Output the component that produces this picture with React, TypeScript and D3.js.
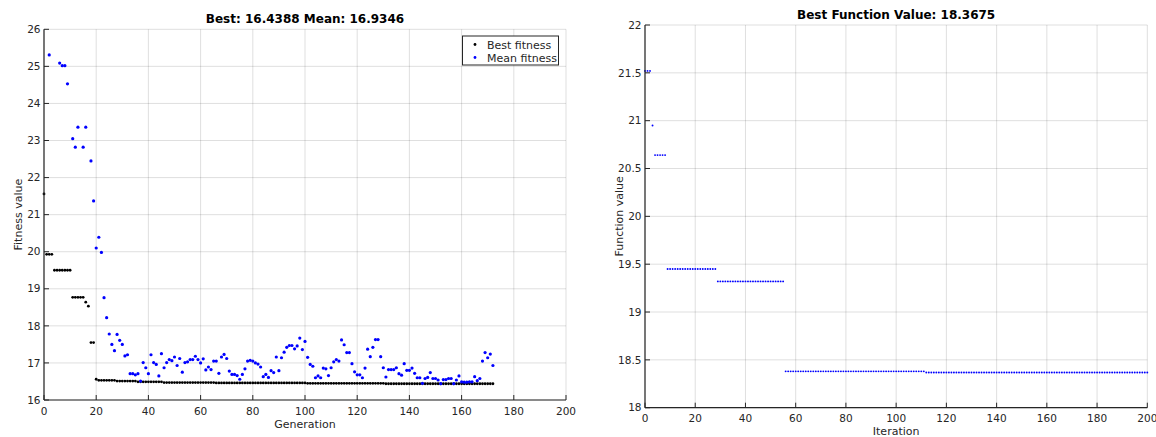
import React from 'react';
import * as d3 from 'd3';

// Left panel: GA fitness per generation (gens 0..172)
// best fitness is stored as [value, count] runs
const bestRuns: [number, number][] = [
  [21.56, 1], [19.93, 3], [19.5, 7], [18.77, 5], [18.64, 1], [18.53, 1],
  [17.55, 2], [16.56, 1], [16.53, 7], [16.51, 8], [16.49, 10], [16.47, 20],
  [16.46, 35], [16.45, 30], [16.4388, 42],
];

// mean fitness; null = above the visible range
const meanFitness: (number | null)[] = [
  null, null, 25.31, null, null, null, 25.09, 25.02, 25.02, 24.53,
  null, 23.05, 22.82, 23.36, null, 22.82, 23.36, null, 22.45, 21.37,
  20.10, 20.39, 19.98, 18.76, 18.22, 17.78, 17.50, 17.33, 17.77, 17.61,
  17.50, 17.19, 17.22, 16.71, 16.71, 16.68, 16.71, 16.51, 17.01, 16.87,
  16.71, 17.22, 17.01, 16.96, 16.65, 17.25, 16.87, 17.01, 17.09, 17.06,
  17.16, 16.93, 17.12, 16.75, 17.01, 17.03, 17.09, 17.09, 17.18, 17.09,
  17.00, 17.11, 16.81, 16.89, 16.82, 17.05, 17.05, 16.72, 17.16, 17.23,
  17.12, 16.78, 16.69, 16.69, 16.66, 16.56, 16.69, 16.84, 17.05, 17.07,
  17.05, 17.00, 16.97, 16.89, 16.63, 16.69, 16.61, 16.79, 16.74, 17.16,
  16.79, 17.14, 17.29, 17.42, 17.47, 17.47, 17.38, 17.46, 17.67, 17.36,
  17.58, 17.15, 16.96, 16.91, 16.60, 16.65, 16.60, 16.86, 16.84, 16.66,
  16.87, 17.03, 17.09, 17.05, 17.62, 17.49, 17.28, 17.28, 16.98, 16.76,
  16.68, 16.68, 16.60, 16.86, 17.37, 17.17, 17.42, 17.63, 17.63, 17.17,
  16.87, 16.62, 16.82, 16.82, 16.82, 16.87, 16.71, 16.67, 16.98, 16.80,
  16.80, 16.86, 16.72, 16.60, 16.60, 16.45, 16.58, 16.61, 16.74, 16.58,
  16.58, 16.54, 16.44, 16.55, 16.55, 16.58, 16.58, 16.44, 16.54, 16.65,
  16.49, 16.48, 16.48, 16.49, 16.49, 16.63, 16.52, 16.58, 17.05, 17.28,
  17.14, 17.24, 16.93,
];

// Right panel: best function value per iteration (0..200), as runs
const bestFvalRuns: [number, number][] = [
  [21.52, 3], [20.95, 1], [20.64, 5], [19.45, 20], [19.32, 27], [18.38, 56], [18.3675, 89],
];

const leftYTicks = [16, 17, 18, 19, 20, 21, 22, 23, 24, 25, 26];
const rightYTicks = [18, 18.5, 19, 19.5, 20, 20.5, 21, 21.5, 22];
const xTicks = [0, 20, 40, 60, 80, 100, 120, 140, 160, 180, 200];
const legendItems = [
  { label: 'Best fitness', color: '#000000' },
  { label: 'Mean fitness', color: '#0000ff' },
];

const expand = (runs: [number, number][]) =>
  runs.flatMap(([v, n]) => Array.from({ length: n }, () => v));

const bestFitness = expand(bestRuns);
const bestFval = expand(bestFvalRuns);

const TXT = '#262626';
const FONT = 'DejaVu Sans, sans-serif';

interface PanelProps {
  x0: number; x1: number; y0: number; y1: number;
  yDomain: [number, number];
  yTicks: number[];
  title: string;
  xLabel: string;
  yLabel: string;
  xLabelOffset?: number;
  children: (x: d3.ScaleLinear<number, number>, y: d3.ScaleLinear<number, number>) => React.ReactNode;
}

const Panel: React.FC<PanelProps> = ({ x0, x1, y0, y1, yDomain, yTicks, title, xLabel, yLabel, xLabelOffset = 28, children }) => {
  const x = d3.scaleLinear().domain([0, 200]).range([x0, x1]);
  const y = d3.scaleLinear().domain(yDomain).range([y1, y0]);
  const cx = (x0 + x1) / 2;
  const cy = (y0 + y1) / 2;
  return (
    <g fontFamily={FONT}>
      {/* grid */}
      {xTicks.map(t => (
        <line key={'gx' + t} x1={x(t)} x2={x(t)} y1={y0} y2={y1} stroke={TXT} strokeOpacity={0.15} />
      ))}
      {yTicks.map(t => (
        <line key={'gy' + t} x1={x0} x2={x1} y1={y(t)} y2={y(t)} stroke={TXT} strokeOpacity={0.15} />
      ))}
      {children(x, y)}
      {/* axes */}
      <line x1={x0} x2={x0} y1={y0} y2={y1} stroke={TXT} strokeWidth={1.2} />
      <line x1={x0} x2={x1} y1={y1} y2={y1} stroke={TXT} strokeWidth={1.2} />
      {xTicks.map(t => (
        <g key={'tx' + t}>
          <line x1={x(t)} x2={x(t)} y1={y1} y2={y1 - 5} stroke={TXT} />
          <text x={x(t)} y={y1 + 14.5} textAnchor="middle" fontSize={10.5} fill={TXT}>{t}</text>
        </g>
      ))}
      {yTicks.map(t => (
        <g key={'ty' + t}>
          <line x1={x0} x2={x0 + 5} y1={y(t)} y2={y(t)} stroke={TXT} />
          <text x={x0 - 3.5} y={y(t)} dy="0.35em" textAnchor="end" fontSize={10.5} fill={TXT}>{t}</text>
        </g>
      ))}
      <text x={cx} y={y0 - 6} textAnchor="middle" fontSize={12} fontWeight="bold" fill="#000">{title}</text>
      <text x={cx} y={y1 + xLabelOffset} textAnchor="middle" fontSize={11} fill={TXT}>{xLabel}</text>
      <text transform={`translate(${x0 - 22},${cy}) rotate(-90)`} textAnchor="middle" fontSize={11} fill={TXT}>{yLabel}</text>
    </g>
  );
};

export default function App() {
  return (
    <svg width={1156} height={437} style={{ position: 'absolute', left: 0, top: 0, background: '#fff' }}>
      <Panel x0={44} x1={566} y0={29.3} y1={400} yDomain={[16, 26]} yTicks={leftYTicks}
        title="Best: 16.4388 Mean: 16.9346" xLabel="Generation" yLabel="Fitness value">
        {(x, y) => (
          <g>
            {bestFitness.map((v, i) => (
              <circle key={'b' + i} cx={x(i)} cy={y(v)} r={1.4} fill="#000" />
            ))}
            {meanFitness.map((v, i) => v == null ? null : (
              <circle key={'m' + i} cx={x(i)} cy={y(v)} r={1.6} fill="#0000ff" />
            ))}
            {/* legend */}
            <rect x={462.5} y={36} width={96} height={29} fill="#fff" stroke={TXT} strokeWidth={1} />
            {legendItems.map((d, i) => (
              <g key={d.label}>
                <circle cx={475} cy={44.5 + i * 13} r={1.4} fill={d.color} />
                <text x={487} y={48.5 + i * 13} fontSize={11} fill={TXT}>{d.label}</text>
              </g>
            ))}
          </g>
        )}
      </Panel>
      <Panel x0={645} x1={1147.3} y0={25} y1={407.7} yDomain={[18, 22]} yTicks={rightYTicks}
        title="Best Function Value: 18.3675" xLabel="Iteration" yLabel="Function value" xLabelOffset={26.8}>
        {(x, y) => (
          <g>
            {bestFval.map((v, i) => (
              <circle key={'f' + i} cx={x(i)} cy={y(v)} r={0.95} fill="#0000ff" />
            ))}
          </g>
        )}
      </Panel>
    </svg>
  );
}
